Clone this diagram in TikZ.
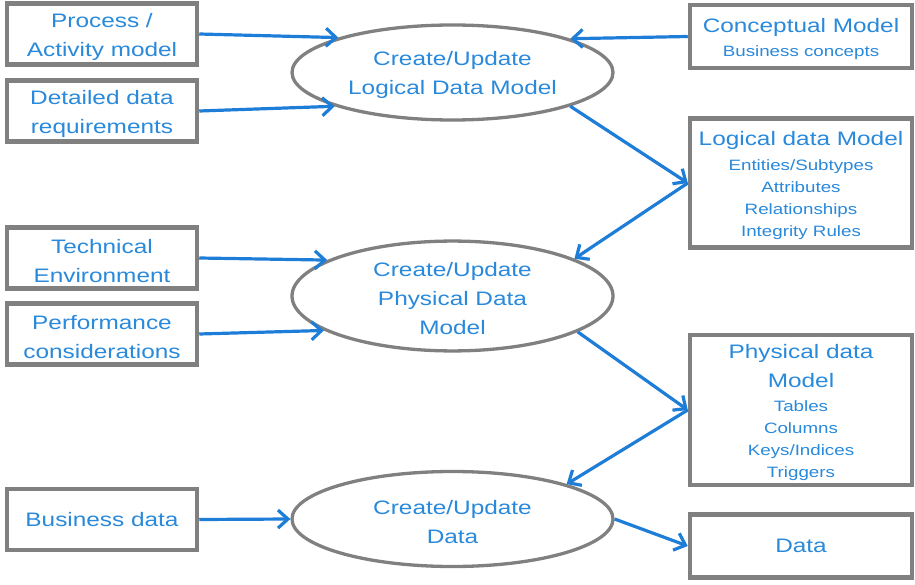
\documentclass[tikz,border=0pt]{standalone}
\usepackage{fontspec}
\setmainfont{Liberation Sans}[FakeStretch=1.25]
\usetikzlibrary{shapes.geometric,arrows.meta}
\definecolor{txtblue}{RGB}{41,137,219}
\definecolor{flowblue}{RGB}{30,125,215}
\definecolor{framegray}{RGB}{128,128,128}
\newcommand{\bigline}{\fontsize{19.5}{29}\selectfont}
\newcommand{\smallline}{\fontsize{15}{22}\selectfont}
% zero-width strut that lowers a multi-line text block a little
\newcommand{\lowerit}{\rule{0pt}{19.5pt}}
\begin{document}
\begin{tikzpicture}[x=1pt,y=-1pt,
  box/.style={draw=framegray, line width=4.5pt, fill=white, text=txtblue,
    align=center, inner sep=0pt},
  inbox/.style={box, minimum width=190pt, minimum height=61pt, font=\bigline},
  outbox/.style={box, minimum width=222pt, font=\smallline},
  task/.style={ellipse, draw=framegray, line width=3.3pt, fill=white,
    text=txtblue, align=center, inner sep=0pt, minimum width=321pt,
    minimum height=95pt, font=\bigline},
  flow/.style={draw=flowblue, line width=3.2pt,
    -{Straight Barb[length=10pt,width=18pt]}}
]
\useasboundingbox (0,0) rectangle (915,585);

% inputs on the left
\node[inbox] (proc) at (102,34)    {\lowerit Process /\\Activity model};
\node[inbox] (det)  at (102,111)   {\lowerit Detailed data\\requirements};
\node[inbox] (tech) at (102,258)   {\lowerit Technical\\Environment};
\node[inbox] (perf) at (102,334)   {\lowerit Performance\\considerations};
\node[inbox] (bus)  at (102,519.5) {Business data};

% the three activities
\node[task] (e1) at (452.5,72.5) {\lowerit Create/Update\\Logical Data Model};
\node[task] (e2) at (452.5,296)  {\lowerit Create/Update\\Physical Data\\Model};
\node[task] (e3) at (452.5,519)  {\lowerit Create/Update\\Data};

% models and results on the right
\node[outbox, minimum height=63pt] (concept) at (801,36.5)
  {{\bigline\lowerit Conceptual Model}\\[1.4pt]Business concepts};
\node[outbox, minimum height=129pt] (logical) at (801,183)
  {{\bigline\lowerit Logical data Model}\\[2.5pt]Entities/Subtypes\\Attributes\\Relationships\\Integrity Rules};
\node[outbox, minimum height=150pt] (physical) at (801,410)
  {{\bigline\lowerit Physical data}\\[7pt]{\bigline Model}\\[2.5pt]Tables\\Columns\\Keys/Indices\\Triggers};
\node[outbox, minimum height=63pt, font=\bigline] (data) at (801,546) {Data};

% flows
\draw[flow] (proc.east) -- (e1.163);
\draw[flow] (det.east) -- (e1.196);
\draw[flow] (concept.west) -- (e1.16);
\draw[flow] (e1.344) -- (logical.west);
\draw[flow] (logical.west) -- (e2.17);
\draw[flow] (tech.east) -- (e2.164);
\draw[flow] (perf.east) -- (e2.195);
\draw[flow] (e2.344) -- (physical.west);
\draw[flow] (physical.west) -- (e3.17);
\draw[flow] (bus.east) -- (e3.west);
\draw[flow] (e3.east) -- (data.west);
\end{tikzpicture}
\end{document}
